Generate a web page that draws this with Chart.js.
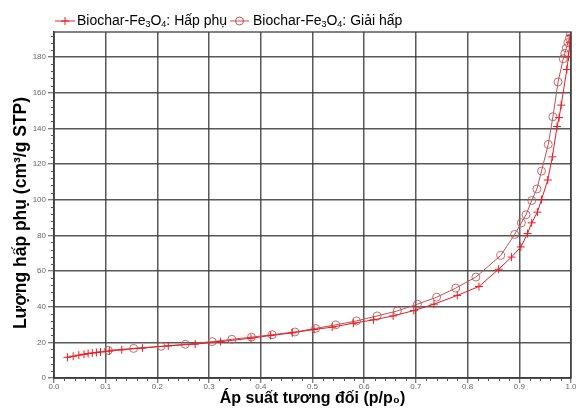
<!DOCTYPE html>
<html><head><meta charset="utf-8">
<script src="https://cdn.jsdelivr.net/npm/chart.js@4.4.1/dist/chart.umd.min.js"></script>
<style>html,body{margin:0;padding:0;background:#fff}#wrap{width:576px;height:408px}</style>
</head><body><div id="wrap"><canvas id="c" width="576" height="408"></canvas></div>
<script>
// ---- data ----
const seriesNames = ['Biochar-Fe₃O₄: Hấp phụ', 'Biochar-Fe₃O₄: Giải hấp'];
const adsP = [0.026,0.037,0.048,0.058,0.066,0.074,0.082,0.090,0.107,0.131,0.171,0.221,0.273,0.322,0.381,0.419,0.461,0.503,0.538,0.579,0.618,0.656,0.696,0.735,0.780,0.822,0.860,0.885,0.903,0.916,0.924,0.935,0.943,0.955,0.964,0.973,0.977,0.981,0.992,0.995,0.998,0.999];
const adsV = [11.6,12.2,12.8,13.3,13.7,14.0,14.3,14.6,15.1,15.8,16.8,18.0,19.0,20.4,22.3,23.8,25.3,27.2,28.5,30.7,32.6,34.8,37.8,41.4,46.3,51.3,61.0,67.8,73.5,81.0,87.0,93.0,100.0,111.0,124.0,141.0,146.0,153.0,173.0,180.0,188.0,192.0];
const desP = [0.105,0.154,0.207,0.254,0.306,0.344,0.382,0.422,0.466,0.506,0.545,0.585,0.625,0.664,0.703,0.740,0.777,0.816,0.864,0.891,0.904,0.913,0.924,0.934,0.943,0.956,0.965,0.975,0.985,0.988,0.991,0.994,0.997,0.999];
const desV = [15.5,16.6,17.8,18.9,20.4,21.7,22.9,24.3,25.8,27.8,29.8,32.0,34.8,37.6,41.4,45.3,50.4,56.6,68.7,80.5,87.0,91.5,99.5,106.0,116.0,131.0,146.5,166.0,179.0,182.0,185.0,188.0,190.5,193.0];
const xTickValues = [0,0.1,0.2,0.3,0.4,0.5,0.6,0.7,0.8,0.9,1.0];
const yTickValues = [0,20,40,60,80,100,120,140,160,180];
const xTitle = 'Áp suất tương đối (p/p₀)';
const yTitle = 'Lượng hấp phụ (cm³/g STP)';

// ---- styles ----
const adsColor = 'rgb(236,28,36)';
const desColor = 'rgb(192,80,80)';
const gridColor = 'rgba(60,60,60,0.85)';
const FONT = '"Liberation Sans", Arial, sans-serif';

const toXY = (xs, ys) => xs.map((x, i) => ({x: x, y: ys[i]}));

const subMap = {'₀':'0','₁':'1','₂':'2','₃':'3','₄':'4'};
function drawRich(ctx, text, x, y, size) {
  let cx = x;
  for (const ch of text) {
    if (subMap[ch]) {
      ctx.font = Math.round(size*0.62) + 'px ' + FONT;
      ctx.fillText(subMap[ch], cx, y + size*0.25);
      cx += ctx.measureText(subMap[ch]).width;
    } else {
      ctx.font = size + 'px ' + FONT;
      ctx.fillText(ch, cx, y);
      cx += ctx.measureText(ch).width;
    }
  }
  return cx;
}

const extras = {
  id: 'extras',
  afterDraw(chart) {
    const ctx = chart.ctx, a = chart.chartArea;
    const xs = chart.scales.x, ys = chart.scales.y;
    ctx.save();
    // frame
    ctx.strokeStyle = gridColor; ctx.lineWidth = 1.5;
    ctx.strokeRect(a.left, a.top, a.right - a.left, a.bottom - a.top);
    // minor ticks
    ctx.strokeStyle = '#555'; ctx.lineWidth = 1;
    ctx.beginPath();
    for (let i = 0; i <= 48; i++) {
      const v = i * 4; if (v % 20 === 0) continue;
      const py = Math.round(ys.getPixelForValue(v)) + 0.5;
      ctx.moveTo(a.left - 3, py); ctx.lineTo(a.left, py);
    }
    for (let i = 0; i <= 50; i++) {
      if (i % 5 === 0) continue;
      const px = Math.round(xs.getPixelForValue(i * 0.02)) + 0.5;
      ctx.moveTo(px, a.bottom); ctx.lineTo(px, a.bottom + 3);
    }
    ctx.stroke();
    // y title
    ctx.save();
    ctx.translate(21, 213);
    ctx.rotate(-Math.PI / 2);
    ctx.fillStyle = '#000';
    ctx.font = 'bold 17.5px ' + FONT;
    ctx.textAlign = 'center'; ctx.textBaseline = 'middle';
    ctx.fillText(yTitle, 0, 0);
    ctx.restore();
    // legend
    const ly = 21;
    const items = [
      {x0: 55, x1: 75, name: seriesNames[0], color: adsColor, mk: 'cross', tx: 77},
      {x0: 230, x1: 249, name: seriesNames[1], color: desColor, mk: 'circle', tx: 253}
    ];
    ctx.textBaseline = 'middle'; ctx.textAlign = 'left';
    items.forEach(it => {
      ctx.strokeStyle = it.color; ctx.lineWidth = 1;
      ctx.beginPath(); ctx.moveTo(it.x0, ly); ctx.lineTo(it.x1, ly); ctx.stroke();
      const mx = (it.x0 + it.x1) / 2;
      ctx.beginPath();
      if (it.mk === 'cross') { ctx.moveTo(mx - 4, ly); ctx.lineTo(mx + 4, ly); ctx.moveTo(mx, ly - 4); ctx.lineTo(mx, ly + 4); }
      else { ctx.arc(mx, ly, 4, 0, Math.PI * 2); }
      ctx.stroke();
      ctx.fillStyle = '#000';
      drawRich(ctx, it.name, it.tx, ly, 14);
    });
    ctx.restore();
  }
};

new Chart(document.getElementById('c'), {
  type: 'scatter',
  data: {
    datasets: [
      {label: seriesNames[0], data: toXY(adsP, adsV), showLine: true, borderColor: adsColor, borderWidth: 1,
       pointStyle: 'cross', pointRadius: 4, pointBorderColor: adsColor, pointBorderWidth: 1, pointBackgroundColor: adsColor},
      {label: seriesNames[1], data: toXY(desP, desV), showLine: true, borderColor: desColor, borderWidth: 1,
       pointStyle: 'circle', pointRadius: 4, pointBorderColor: 'rgba(192,90,90,0.9)', pointBorderWidth: 1, pointBackgroundColor: 'rgba(0,0,0,0)'}
    ]
  },
  options: {
    responsive: false, animation: false, devicePixelRatio: 1,
    layout: {padding: {top: 32, right: 5, left: 0, bottom: 0}},
    plugins: {legend: {display: false}, tooltip: {enabled: false}},
    scales: {
      x: {
        type: 'linear', min: 0, max: 1.0,
        afterBuildTicks: s => { s.ticks = xTickValues.map(v => ({value: v})); },
        afterFit: s => { s.height = 30; },
        grid: {color: gridColor, lineWidth: 1.5, tickLength: 5, tickColor: '#555', tickWidth: 1},
        border: {color: '#444', width: 1.5},
        ticks: {padding: -1, color: '#666', font: {size: 8, family: FONT}, maxRotation: 0,
                callback: v => Number(v).toFixed(1)},
        title: {display: true, text: xTitle, color: '#000', padding: {top: 0, bottom: 0},
                font: {size: 16, weight: 'bold', family: FONT}}
      },
      y: {
        type: 'linear', min: 0, max: 194,
        afterBuildTicks: s => { s.ticks = yTickValues.map(v => ({value: v})); },
        afterFit: s => { s.width = 54; },
        grid: {color: gridColor, lineWidth: 1.5, tickLength: 6, tickColor: '#555', tickWidth: 1},
        border: {color: '#444', width: 1.5},
        ticks: {padding: 2, color: '#666', font: {size: 8, family: FONT}},
        title: {display: false}
      }
    }
  },
  plugins: [extras]
});
</script></body></html>
